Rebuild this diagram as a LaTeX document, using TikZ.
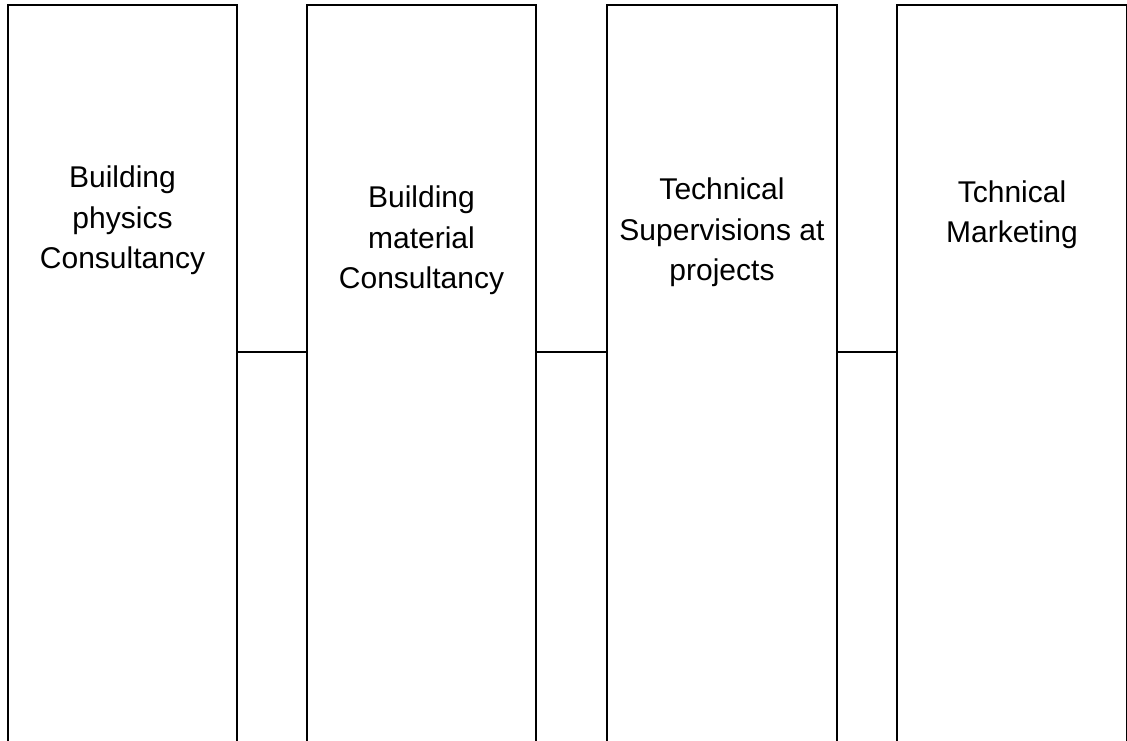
\documentclass[tikz,border=0pt]{standalone}
\usepackage{fontspec}
\setmainfont{Liberation Sans}
\usetikzlibrary{positioning}

\begin{document}
\begin{tikzpicture}[node distance=70pt,
        column/.style={draw, rectangle, line width=1.9pt, minimum width=229.5pt, minimum height=800pt, inner sep=0pt, outer sep=0pt},
        caption/.style={align=center, inner sep=0pt, font=\fontsize{30}{40.5}\selectfont},
        link/.style={line width=1.5pt}]
        \useasboundingbox (0,0) rectangle (1127pt,-741pt);
        \clip (0,0) rectangle (1127pt,-741pt);

        \node (physics) [column, anchor=north] at (122.5pt,-5pt) {};
        \node (material) [column, right=69.5pt of physics] {};
        \node (supervision) [column, right=71pt of material] {};
        \node (marketing) [column, right=60.5pt of supervision] {};

        \node (physicstext) [caption, below=161pt of physics.north] {Building\\physics\\Consultancy};
        \node (materialtext) [caption, below=181pt of material.north] {Building\\material\\Consultancy};
        \node (supervisiontext) [caption, below=173pt of supervision.north] {Technical\\Supervisions at\\projects};
        \node (marketingtext) [caption, below=175.5pt of marketing.north] {Tchnical\\Marketing};

        \path[link]
            ([yshift=53pt]physics.east) edge ([yshift=53pt]material.west)
            ([yshift=53pt]material.east) edge ([yshift=53pt]supervision.west)
            ([yshift=53pt]supervision.east) edge ([yshift=53pt]marketing.west)
        ;
    \end{tikzpicture}
\end{document}
